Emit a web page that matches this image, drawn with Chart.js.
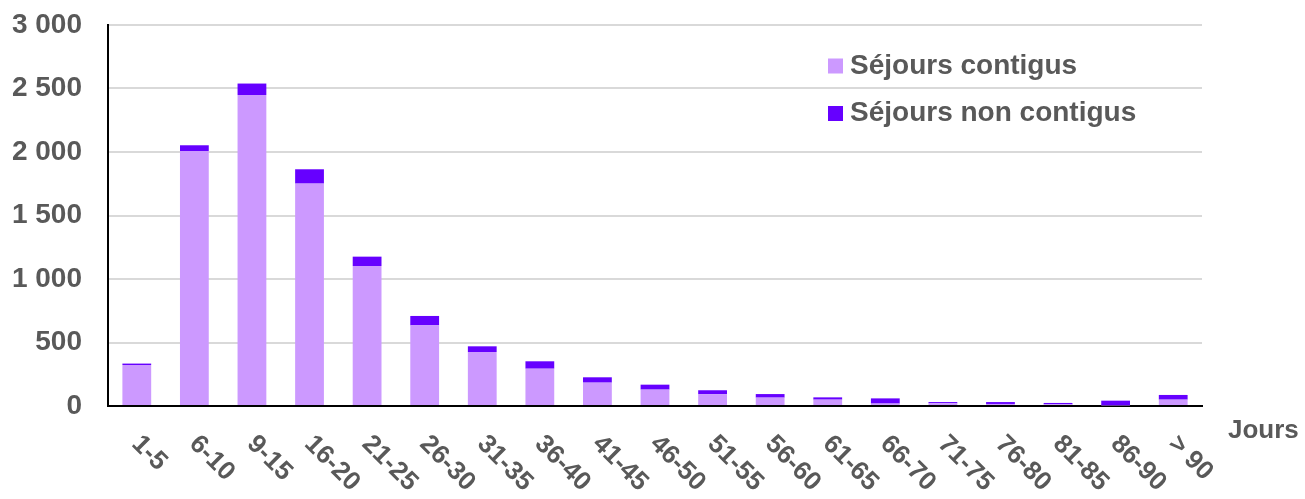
<!DOCTYPE html>
<html lang="fr">
<head>
<meta charset="utf-8">
<title>Durée des séjours</title>
<script src="https://cdn.jsdelivr.net/npm/chart.js@4/dist/chart.umd.min.js"></script>
<style>
  html, body { margin: 0; padding: 0; background: #ffffff; }
  #wrap { position: relative; width: 1305px; height: 499px; }
</style>
</head>
<body>
<div id="wrap"><canvas id="chart"></canvas></div>
<script>
// Classes de durée (jours)
const categories = ['1-5', '6-10', '9-15', '16-20', '21-25', '26-30', '31-35', '36-40', '41-45', '46-50',
                    '51-55', '56-60', '61-65', '66-70', '71-75', '76-80', '81-85', '86-90', '> 90'];

// Nombre de séjours par classe
const sejoursContigus = [323, 2008, 2449, 1751, 1102, 635, 425, 294, 184, 129,
                         92, 66, 50, 19, 21, 16, 13, 5, 50];
const sejoursNonContigus = [11, 45, 90, 113, 74, 74, 45, 58, 42, 39,
                            32, 28, 18, 41, 10, 15, 11, 37, 37];

// Axe des ordonnées
const yTicks = [0, 500, 1000, 1500, 2000, 2500, 3000];
const xAxisTitle = 'Jours';
const seriesLabels = ['Séjours contigus', 'Séjours non contigus'];

const FONT = '"Liberation Sans", Arial, sans-serif';
const TEXT = '#595959';

function formatNumber(v) {
  return String(v).replace(/\B(?=(\d{3})+(?!\d))/g, ' ');
}

// Étiquettes de l'axe X inclinées vers le bas + titre « Jours »
const xLabelsPlugin = {
  id: 'xLabels',
  afterDraw(chart) {
    const { ctx, scales: { x } } = chart;
    ctx.save();
    ctx.fillStyle = TEXT;
    ctx.font = 'bold 26px ' + FONT;
    ctx.textAlign = 'left';
    ctx.textBaseline = 'alphabetic';
    categories.forEach((label, i) => {
      const px = x.getPixelForTick(i);
      ctx.save();
      ctx.translate(px - 6, x.top + 39);
      ctx.rotate(Math.PI / 4);
      ctx.fillText(label, 0, 0);
      ctx.restore();
    });
    ctx.font = 'bold 26px ' + FONT;
    ctx.textBaseline = 'middle';
    ctx.fillText(xAxisTitle, x.right + 26, x.top + 25);
    ctx.restore();
  }
};

// Légende placée dans la zone du graphique
const legendPlugin = {
  id: 'innerLegend',
  afterDraw(chart) {
    const { ctx, chartArea } = chart;
    ctx.save();
    ctx.font = 'bold 28px ' + FONT;
    ctx.textAlign = 'left';
    ctx.textBaseline = 'middle';
    chart.data.datasets.forEach((ds, i) => {
      const cy = chartArea.top + 41 + i * 47.5;
      const sx = chartArea.left + 720;
      ctx.fillStyle = ds.backgroundColor;
      ctx.fillRect(sx, cy - 7.5, 15, 15);
      ctx.fillStyle = TEXT;
      ctx.fillText(ds.label, sx + 22, cy);
    });
    ctx.restore();
  }
};

new Chart(document.getElementById('chart'), {
  type: 'bar',
  data: {
    labels: categories,
    datasets: [
      {
        label: seriesLabels[0],
        data: sejoursContigus,
        backgroundColor: '#CC99FF',
        barPercentage: 1,
        categoryPercentage: 0.5
      },
      {
        label: seriesLabels[1],
        data: sejoursNonContigus,
        backgroundColor: '#6600FF',
        barPercentage: 1,
        categoryPercentage: 0.5
      }
    ]
  },
  options: {
    responsive: true,
    maintainAspectRatio: false,
    animation: false,
    layout: { padding: { top: 25, left: 10, right: 103, bottom: 0 } },
    plugins: {
      legend: { display: false },
      tooltip: { enabled: false }
    },
    scales: {
      x: {
        stacked: true,
        grid: { display: false, drawTicks: false },
        border: { display: true, color: '#000000', width: 2 },
        ticks: { display: false },
        afterFit(scale) { scale.height = 93; }
      },
      y: {
        stacked: true,
        min: yTicks[0],
        max: yTicks[yTicks.length - 1],
        afterBuildTicks(scale) { scale.ticks = yTicks.map(v => ({ value: v })); },
        grid: {
          drawTicks: false,
          lineWidth: 2,
          color: (c) => (c.tick && c.tick.value === 0 ? '#000000' : '#D9D9D9')
        },
        border: { display: true, color: '#000000', width: 2 },
        ticks: {
          padding: 26,
          color: TEXT,
          font: { family: FONT, size: 28, weight: 'bold' },
          callback: (v) => formatNumber(v)
        },
        afterFit(scale) {
          scale.width = 98;
          scale.paddingTop = 0;
          scale.paddingBottom = 0;
        }
      }
    }
  },
  plugins: [xLabelsPlugin, legendPlugin]
});
</script>
</body>
</html>
